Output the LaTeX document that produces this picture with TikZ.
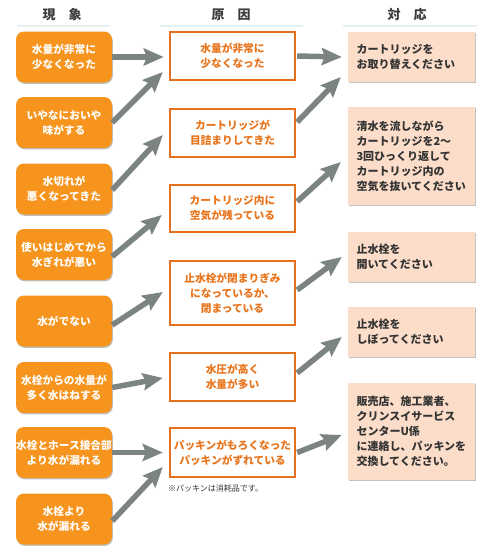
\documentclass[tikz,border=0pt]{standalone}
\usepackage{fontspec}
\newfontfamily\jp{Noto Sans CJK JP}
\usetikzlibrary{arrows.meta,shadows}
\definecolor{orL}{HTML}{F7941D}
\definecolor{orM}{HTML}{E5701E}
\definecolor{txM}{HTML}{E8741C}
\definecolor{pch}{HTML}{FCDDC9}
\definecolor{arrG}{HTML}{7B8480}
\definecolor{hdr}{HTML}{3C3C3C}
\definecolor{txR}{HTML}{333333}
\definecolor{uline}{HTML}{E4F1F0}
\begin{document}
\begin{tikzpicture}[x=1pt,y=-1pt,
  lbox/.style={rounded corners=8pt, fill=orL, minimum width=96pt, minimum height=51pt,
    text=white, align=center, inner sep=0pt,
    font=\jp\bfseries\fontsize{10.7}{15}\selectfont,
    drop shadow={shadow xshift=0.8pt, shadow yshift=-1.4pt, opacity=0.35, fill=black!70}},
  mbox/.style={draw=orM, line width=2.4pt, fill=white, minimum width=125pt,
    text=txM, align=center, inner sep=0pt,
    font=\jp\bfseries\fontsize{10.7}{15}\selectfont,
    drop shadow={shadow xshift=0.8pt, shadow yshift=-1pt, opacity=0.2, fill=black!60}},
  rbox/.style={fill=pch, minimum width=127pt, text width=110pt, inner xsep=8.5pt, inner ysep=0pt,
    text=txR, align=left,
    font=\jp\bfseries\fontsize{11}{15}\selectfont,
    drop shadow={shadow xshift=1.2pt, shadow yshift=-1.2pt, opacity=0.4, fill=black!60}},
  hd/.style={text=hdr, font=\jp\bfseries\fontsize{13}{15}\selectfont},
  arr/.style={draw=arrG, line width=5.5pt, -{Stealth[length=20pt,width=17pt,inset=3pt]}},
  ul/.style={draw=uline, line width=2pt}
]
\useasboundingbox (0,0) rectangle (496,552);

% headers
\node[hd] (h1) at (62,15) {現　象};
\node[hd] (h2) at (231,15) {原　因};
\node[hd] (h3) at (407,15) {対　応};
\coordinate (u1a) at (17,26); \coordinate (u1b) at (110,26);
\coordinate (u2a) at (160,26); \coordinate (u2b) at (303,26);
\coordinate (u3a) at (343,26); \coordinate (u3b) at (477,26);
\draw[ul] (u1a) -- (u1b);
\draw[ul] (u2a) -- (u2b);
\draw[ul] (u3a) -- (u3b);

% left column
\node[lbox] (L1) at (64,57)    {水量が非常に\\少なくなった};
\node[lbox] (L2) at (64,122.5) {いやなにおいや\\味がする};
\node[lbox] (L3) at (64,189)   {水切れが\\悪くなってきた};
\node[lbox] (L4) at (64,254.5) {使いはじめてから\\水ぎれが悪い};
\node[lbox] (L5) at (64,321)   {水がでない};
\node[lbox] (L6) at (64,387.5) {水栓からの水量が\\多く水はねする};
\node[lbox] (L7) at (64,452.5) {水栓とホース接合部\\より水が漏れる};
\node[lbox] (L8) at (64,519)   {水栓より\\水が漏れる};

% middle column
\node[mbox, minimum height=48pt] (M1) at (232.5,56)    {水量が非常に\\少なくなった};
\node[mbox, minimum height=48pt] (M2) at (232.5,133)   {カートリッジが\\目詰まりしてきた};
\node[mbox, minimum height=47pt] (M3) at (232.5,208.5) {カートリッジ内に\\空気が残っている};
\node[mbox, minimum height=64pt] (M4) at (232.5,293)   {止水栓が閉まりぎみ\\になっているか、\\閉まっている};
\node[mbox, minimum height=48pt] (M5) at (232.5,377)   {水圧が高く\\水量が多い};
\node[mbox, minimum height=49pt] (M6) at (232.5,452.5) {パッキンがもろくなった\\パッキンがずれている};
\node[anchor=west, text=txR, font=\jp\fontsize{8}{10}\selectfont, inner sep=0pt] (note) at (168,488) {※パッキンは消耗品です。};

% right column
\node[rbox, minimum height=50pt] (R1) at (411.5,57)    {カートリッジを\\お取り替えください};
\node[rbox, minimum height=98pt] (R2) at (411.5,156)   {清水を流しながら\\カートリッジを2～\\3回ひっくり返して\\カートリッジ内の\\空気を抜いてください};
\node[rbox, minimum height=50pt] (R3) at (411.5,257)   {止水栓を\\開いてください};
\node[rbox, minimum height=50pt] (R4) at (411.5,332)   {止水栓を\\しぼってください};
\node[rbox, minimum height=97pt] (R5) at (411.5,431.5) {販売店、施工業者、\\クリンスイサービス\\センターU係\\に連絡し、パッキンを\\交換してください。};

% arrows left -> middle
\draw[arr] (L1.east) -- ([shift={(-5,1)}]M1.west);
\draw[arr] (L2.east) -- ([shift={(-6,16)}]M1.west);
\draw[arr] ([yshift=-1]L3.east) -- ([shift={(-6,2)}]M2.west);
\draw[arr] ([yshift=-2]L4.east) -- ([shift={(-7,6.5)}]M3.west);
\draw[arr] ([yshift=-4]L5.east) -- ([shift={(-6,-1)}]M4.west);
\draw[arr] (L6.east) -- ([shift={(-6,1)}]M5.west);
\draw[arr] (L7.east) -- ([shift={(-6,0)}]M6.west);
\draw[arr] ([yshift=-2]L8.east) -- ([shift={(-6,14.5)}]M6.west);

% arrows middle -> right
\draw[arr] ([xshift=1]M1.east) -- ([shift={(-6,0)}]R1.west);
\draw[arr] ([shift={(1,-11)}]M2.east) -- ([shift={(-7,20)}]R1.west);
\draw[arr] ([shift={(1,-7)}]M3.east) -- ([shift={(-7,6)}]R2.west);
\draw[arr] ([shift={(1,-3)}]M4.east) -- ([shift={(-6,0)}]R3.west);
\draw[arr] ([shift={(1,-4)}]M5.east) -- ([shift={(-6,5)}]R4.west);
\draw[arr] ([xshift=1]M6.east) -- ([shift={(-6,3.5)}]R5.west);
\end{tikzpicture}
\end{document}
